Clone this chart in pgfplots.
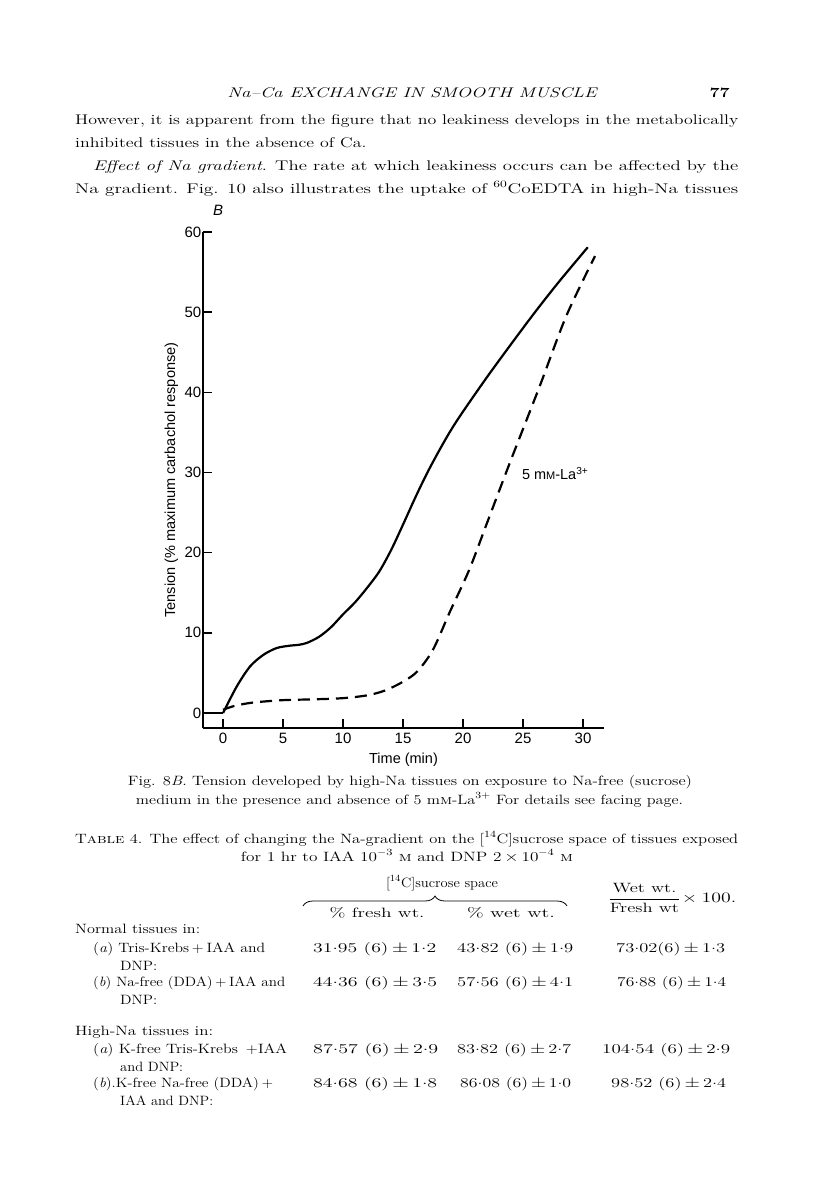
\documentclass[border=0pt]{standalone}
\usepackage{fontspec}
\usepackage{amsmath}
\usepackage{graphicx}
\usepackage{pgfplots}
\pgfplotsset{compat=1.18}
\usetikzlibrary{decorations.pathreplacing}
\newfontfamily\chartfont{Liberation Sans}
\newlength\natw
% justified line squeezed to a given width, and a plain squeezed line
\newcommand\J[2]{\resizebox{#1pt}{\height}{#2}}
\newcommand\Q[1]{\scalebox{\hs}[1]{#1}}
\newcommand\pd{\raisebox{0.42ex}{.}}
\tikzset{T/.style={inner sep=0pt, anchor=base west}, C/.style={inner sep=0pt, anchor=base},
  R/.style={inner sep=0pt, anchor=base east}}

\begin{document}%
\fontsize{14}{23}\selectfont%
\settowidth\natw{However, it is apparent from the figure that no leakiness develops in the metabolically}%
\pgfmathsetmacro\hs{663/\natw}%
\begin{tikzpicture}
\fill[white] (0pt,0pt) rectangle (816pt,-1181pt);

% running head and text
\node[C] at (412pt,-97pt) {\J{369}{\itshape Na--Ca EXCHANGE IN SMOOTH MUSCLE}};
\node[R] at (730pt,-97pt) {\Q{\bfseries 77}};
\node[T] at (75pt,-124pt) {\J{663}{However, it is apparent from the figure that no leakiness develops in the metabolically}};
\node[T] at (75pt,-147pt) {\Q{inhibited tissues in the absence of Ca.}};
\node[T] at (93pt,-170pt) {\J{645}{\textit{Effect of Na gradient}. The rate at which leakiness occurs can be affected by the}};
\node[T] at (75pt,-193pt) {\J{663}{Na gradient. Fig. 10 also illustrates the uptake of \textsuperscript{60}CoEDTA in high-Na tissues}};

\node[C] at (218pt,-215pt) {\chartfont\fontsize{15}{16}\selectfont\itshape B};

\begin{axis}[
  at={(203pt,-728pt)}, anchor=south west,
  scale only axis, width=401pt, height=496pt,
  xmin=-1.67, xmax=31.75, ymin=-1.875, ymax=60,
  axis lines*=left, axis line style={line width=1.8pt, -},
  xtick={0,5,...,30}, ytick={0,10,...,60},
  tick align=inside, major tick length=9pt,
  tick style={line width=1.6pt, black},
  ticklabel style={font={\chartfont\fontsize{15}{16}\selectfont}},
  yticklabel style={inner xsep=1.5pt},
  /pgf/number format/assume math mode=true,
  xlabel={Time (min)},
  ylabel={\resizebox{275pt}{\height}{Tension (\% maximum carbachol response)}},
  label style={font={\chartfont\fontsize{14.5}{16}\selectfont}},
  clip=false,
]
\addplot[black, line width=2.2pt] coordinates {(-1.67,0) (0,0)};
\addplot[black, line width=2.2pt, smooth] coordinates {
  (0,0) (1.14,3.3) (2.25,5.8) (3.36,7.25) (4.47,8.1) (5.58,8.4) (6.3,8.5)
  (7,8.75) (8,9.5) (9,10.7) (10,12.3) (11,13.8) (12,15.6) (13,17.6)
  (14,20.3) (15,23.5) (16,26.8) (17,29.9) (18,32.7) (19,35.3) (20,37.6)
  (22,41.9) (24,46) (26,50) (28,53.8) (30.4,58.1)
};
\addplot[black, line width=2.2pt, dash pattern=on 12pt off 7pt, smooth] coordinates {
  (0,0.4) (1,0.9) (2.5,1.3) (5,1.6) (7.5,1.7) (10,1.85) (12,2.2) (13.5,2.8)
  (15,3.9) (16.2,5.2) (17.5,7.9) (18.9,12.6) (20.5,17.8) (22,23.7)
  (23.9,31.2) (26.4,40.8) (28.6,49.5) (31,57)
};
\node[anchor=west, inner sep=0pt, font={\chartfont\fontsize{14.5}{16}\selectfont}]
  at (axis cs:24.9,29.9) {5 m{\fontsize{11}{12}\selectfont M}-La\textsuperscript{3+}};
\end{axis}

% figure legend
\begin{scope}[font=\fontsize{13.5}{18}\selectfont]
\node[C] at (410pt,-785pt) {\J{564}{Fig. 8\textit{B}. Tension developed by high-Na tissues on exposure to Na-free (sucrose)}};
\node[C] at (409.5pt,-804pt) {\J{547}{medium in the presence and absence of 5 m\textsc{m}-La\textsuperscript{3+} For details see facing page.}};

% table
\node[T] at (75pt,-843pt) {\J{663}{T\textsc{able} 4. The effect of changing the Na-gradient on the [\textsuperscript{14}C]sucrose space of tissues exposed}};
\node[C] at (407pt,-861pt) {\Q{for 1 hr to IAA 10\textsuperscript{$-$3} \textsc{m} and DNP 2\,$\times$\,10\textsuperscript{$-$4} \textsc{m}}};
\end{scope}

\begin{scope}[font=\fontsize{13.5}{18}\selectfont]
\node[C] at (442pt,-887pt) {\J{112}{[\textsuperscript{14}C]sucrose space}};
\draw[line width=0.8pt, decorate, decoration={brace, amplitude=10pt}] (303pt,-906pt) -- (567pt,-906pt);
\node[anchor=west, inner sep=0pt] at (608pt,-898pt) {\J{128}{$\dfrac{\text{Wet wt.}}{\text{Fresh wt}}\!\times 100.$}};
\node[C] at (377pt,-917pt) {\J{95}{\% fresh wt.}};
\node[C] at (511pt,-917pt) {\J{88}{\% wet wt.}};

\node[T] at (75pt,-933pt) {\J{125}{Normal tissues in:}};
\node[T] at (93pt,-952pt) {\J{172}{(\textit{a}) Tris-Krebs\,+\,IAA and}};
\node[T] at (120pt,-970pt) {\J{37}{DNP:}};
\node[T] at (93pt,-986pt) {\J{192}{(\textit{b}) Na-free (DDA)\,+\,IAA and}};
\node[T] at (120pt,-1004pt) {\J{37}{DNP:}};
\node[T] at (75pt,-1035pt) {\J{138}{High-Na tissues in:}};
\node[T] at (93pt,-1053pt) {\J{194}{(\textit{a}) K-free Tris-Krebs \,+IAA}};
\node[T] at (120pt,-1071pt) {\J{63}{and DNP:}};
\node[T] at (93pt,-1087pt) {\J{180}{(\textit{b}).K-free Na-free (DDA)\,+}};
\node[T] at (120pt,-1105pt) {\J{93}{IAA and DNP:}};

\node[T] at (313pt,-952pt) {\J{123}{31\pd95 (6)\,$\pm$\,1\pd2}};
\node[T] at (457pt,-952pt) {\J{116}{43\pd82 (6)\,$\pm$\,1\pd9}};
\node[T] at (616pt,-952pt) {\J{109}{73\pd02(6)\,$\pm$\,1\pd3}};
\node[T] at (313pt,-986pt) {\J{124}{44\pd36 (6)\,$\pm$\,3\pd5}};
\node[T] at (457pt,-986pt) {\J{116}{57\pd56 (6)\,$\pm$\,4\pd1}};
\node[T] at (617pt,-986pt) {\J{109}{76\pd88 (6)\,$\pm$\,1\pd4}};
\node[T] at (313pt,-1053pt) {\J{125}{87\pd57 (6)\,$\pm$\,2\pd9}};
\node[T] at (457pt,-1053pt) {\J{114}{83\pd82 (6)\,$\pm$\,2\pd7}};
\node[T] at (602pt,-1053pt) {\J{128}{104\pd54 (6)\,$\pm$\,2\pd9}};
\node[T] at (313pt,-1087pt) {\J{124}{84\pd68 (6)\,$\pm$\,1\pd8}};
\node[T] at (460pt,-1087pt) {\J{111}{86\pd08 (6)\,$\pm$\,1\pd0}};
\node[T] at (611pt,-1087pt) {\J{115}{98\pd52 (6)\,$\pm$\,2\pd4}};
\end{scope}
\end{tikzpicture}
\end{document}
